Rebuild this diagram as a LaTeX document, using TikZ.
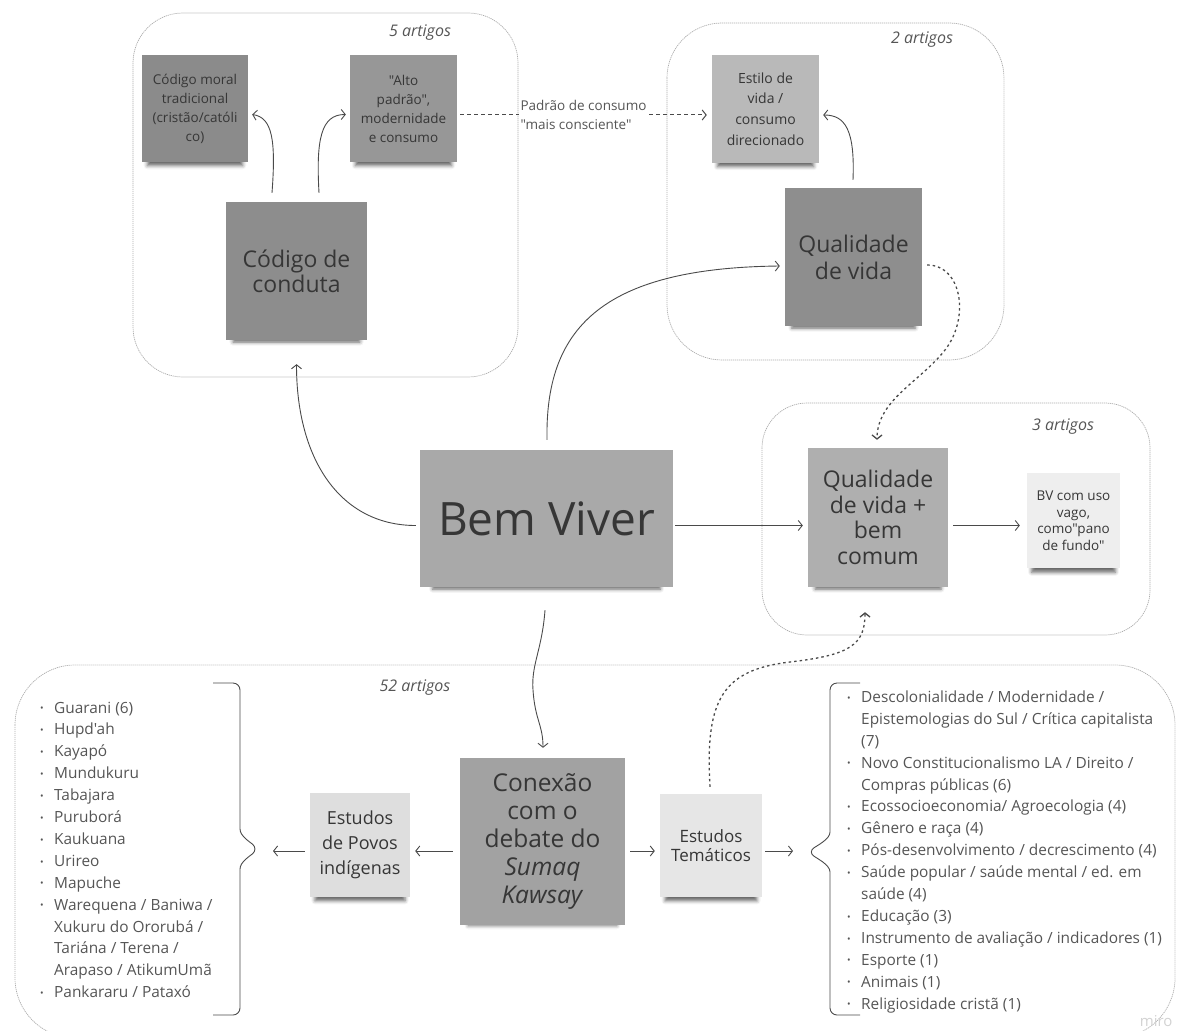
\documentclass[tikz,border=0pt]{standalone}
\usepackage{fontspec}
\setmainfont{Open Sans}[Ligatures=TeXOff]
\usetikzlibrary{arrows.meta,shadows.blur,calc}
\definecolor{cmoral}{HTML}{8B8B8B}
\definecolor{calto}{HTML}{979797}
\definecolor{cconduta}{HTML}{8D8D8D}
\definecolor{cestilo}{HTML}{B9B9B9}
\definecolor{cqv}{HTML}{8E8E8E}
\definecolor{cbv}{HTML}{A9A9A9}
\definecolor{cqbc}{HTML}{AFAFAF}
\definecolor{cbvv}{HTML}{EEEEEE}
\definecolor{cpovos}{HTML}{DEDEDE}
\definecolor{cconex}{HTML}{A2A2A2}
\definecolor{ctem}{HTML}{E6E6E6}
\definecolor{txt}{HTML}{363636}
\definecolor{ltxt}{HTML}{555555}
\definecolor{lnc}{HTML}{4A4A4A}
\newcommand\bul{\makebox[14pt][l]{\raisebox{1.3pt}{\fontsize{9.5}{9.5}\selectfont •}}}
\newcommand\ind{\hspace*{14pt}}
\newcommand\fs[2]{\fontsize{#1}{#2}\selectfont}
\newcommand\qq{"}
\begin{document}
\begin{tikzpicture}[x=1pt,y=-1pt,
  sticky/.style={draw=none, inner sep=2pt, align=center, text=txt,
    blur shadow={shadow xshift=0pt, shadow yshift=-10pt, shadow scale=0.9,
      shadow blur radius=4pt, shadow opacity=60}},
  group/.style={draw=gray!65, line width=0.7pt, dash pattern=on 1.2pt off 0.8pt},
  glabel/.style={text=ltxt, font=\fs{16}{19}\itshape, inner sep=0pt},
  arr/.style={draw=lnc, line width=0.9pt, -{Straight Barb[length=4pt,width=10pt]}},
  dotarr/.style={arr, line width=1.3pt, dash pattern=on 2.5pt off 3pt},
  dasharr/.style={arr, line width=1pt, dash pattern=on 4pt off 3pt},
  bracestyle/.style={draw=lnc, line width=0.9pt, rounded corners=7pt},
  listnode/.style={text=ltxt, align=left, inner sep=0pt, font=\fs{15.4}{21.9}}
]
\useasboundingbox (0,0) rectangle (1177,1030);

% containers
\draw[group, rounded corners=50pt] (133,13) rectangle (518,377);
\draw[group, rounded corners=55pt] (667,23) rectangle (1004,360);
\draw[group, rounded corners=45pt] (762,403) rectangle (1150,635);
\draw[group, rounded corners=60pt] (15,665) rectangle (1175,1038);

\node[glabel] (g1l) at (420,33) {5 artigos};
\node[glabel] (g2l) at (922,40) {2 artigos};
\node[glabel] (g3l) at (1063,427) {3 artigos};
\node[glabel] (g4l) at (415,688) {52 artigos};

% sticky notes
\node[sticky, fill=cmoral, minimum width=106pt, minimum height=107pt, font=\fs{13.5}{19}]
  (moral) at (195,108.5) {Código moral\\tradicional\\(cristão/católi\\co)};
\node[sticky, fill=calto, minimum width=107pt, minimum height=107pt, font=\fs{13.5}{19}]
  (alto) at (403.5,108.5) {\qq Alto\\padrão\qq,\\modernidade\\e consumo};
\node[sticky, fill=cconduta, minimum width=141pt, minimum height=138pt, font=\fs{23}{25}]
  (conduta) at (296.5,271) {Código de\\conduta};
\node[sticky, fill=cestilo, minimum width=107pt, minimum height=108pt, font=\fs{14}{20.5}]
  (estilo) at (765.5,109) {Estilo de\\vida /\\consumo\\direcionado};
\node[sticky, fill=cqv, minimum width=137pt, minimum height=138pt, font=\fs{23}{27}]
  (qv) at (853.5,257) {Qualidade\\de vida};
\node[sticky, fill=cbv, minimum width=253pt, minimum height=137pt, font=\fs{46}{50}]
  (bv) at (546.5,518.5) {Bem Viver};
\node[sticky, fill=cqbc, minimum width=140pt, minimum height=139pt, font=\fs{23}{25.6}]
  (qbc) at (878,517.5) {Qualidade\\de vida +\\bem\\comum};
\node[sticky, fill=cbvv, minimum width=93pt, minimum height=95pt, font=\fs{13.5}{16.5}]
  (bvv) at (1073.5,520.5) {BV com uso\\vago,\\como\qq pano\\de fundo\qq};
\node[sticky, fill=cpovos, minimum width=100pt, minimum height=104pt, font=\fs{18}{25}]
  (povos) at (360,845) {Estudos\\de Povos\\indígenas};
\node[sticky, fill=cconex, minimum width=165pt, minimum height=167pt, font=\fs{24.5}{28}]
  (conex) at (542.5,841.5) {Conexão\\com o\\debate do\\\textit{Sumaq}\\\textit{Kawsay}};
\node[sticky, fill=ctem, minimum width=102pt, minimum height=103pt, font=\fs{17}{19.5}]
  (tem) at (711,845.5) {Estudos\\Temáticos};

% lists
\node[listnode, anchor=north west] (llist) at (40,701.5) {%
\bul Guarani (6)\\
\bul Hupd'ah\\
\bul Kayapó\\
\bul Mundukuru\\
\bul Tabajara\\
\bul Puruborá\\
\bul Kaukuana\\
\bul Urireo\\
\bul Mapuche\\
\bul Warequena / Baniwa /\\
\ind Xukuru do Ororubá /\\
\ind Tariána / Terena /\\
\ind Arapaso / AtikumUmã\\
\bul Pankararu / Pataxó};

\node[listnode, anchor=north west] (rlist) at (847,690.5) {%
\bul Descolonialidade / Modernidade /\\
\ind Epistemologias do Sul / Crítica capitalista\\
\ind (7)\\
\bul Novo Constitucionalismo LA / Direito /\\
\ind Compras públicas (6)\\
\bul Ecossocioeconomia/ Agroecologia (4)\\
\bul Gênero e raça (4)\\
\bul Pós-desenvolvimento / decrescimento (4)\\
\bul Saúde popular / saúde mental / ed. em\\
\ind saúde (4)\\
\bul Educação (3)\\
\bul Instrumento de avaliação / indicadores (1)\\
\bul Esporte (1)\\
\bul Animais (1)\\
\bul Religiosidade cristã (1)};

% braces
\coordinate (lb) at (258,849);
\coordinate (rb) at (808,852);
\draw[bracestyle] (213,683) -- (240,683) -- (240,822)
  .. controls (240,836) and (250,842) .. (lb)
  .. controls (250,856) and (240,862) .. (240,876) -- (240,1015) -- (213,1015);
\draw[bracestyle] (860,683) -- (830,683) -- (830,825)
  .. controls (830,839) and (818,845) .. (rb)
  .. controls (818,859) and (830,865) .. (830,879) -- (830,1015) -- (860,1015);

% connectors
\draw[arr] ($(conduta.north)+(-24.5,-9)$) .. controls +(4,-53) and +(20,3) .. ($(moral.east)+(4,6)$);
\draw[arr] ($(conduta.north)+(22.5,-9)$) .. controls +(-3,-53) and +(-25,0) .. ($(alto.west)+(-4,6)$);
\draw[arr] ($(bv.west)+(-4,7)$) .. controls +(-75,0) and +(0,96) .. ($(conduta.south)+(0,24)$);
\draw[arr] ($(bv.north)+(0.5,-10)$) .. controls +(-2,-110) and +(-180,2) .. ($(qv.west)+(-5,9)$);
\draw[arr] ($(bv.east)+(2,7)$) -- ($(qbc.west)+(-5,8)$);
\draw[arr] ($(qbc.east)+(5,8)$) -- ($(bvv.west)+(-7,5)$);
\draw[arr] ($(qv.north)+(-0.5,-8)$) .. controls +(2,-50) and +(22,0) .. ($(estilo.east)+(4,6)$);
\draw[arr] ($(bv.south)+(-1.5,23)$) .. controls (542,650) and (531,665) .. (533,690)
  .. controls (535,720) and (543,725) .. ($(conex.north)+(0.5,-10)$);
\draw[arr] ($(conex.west)+(-7,9.5)$) -- ($(povos.east)+(5,6)$);
\draw[arr] ($(conex.east)+(5,9.5)$) -- ($(tem.west)+(-5,5.5)$);
\draw[arr] ($(povos.west)+(-5,6)$) -- ($(lb)+(15,2)$);
\draw[arr] ($(tem.east)+(3,5.5)$) -- ($(rb)+(-15,-1)$);
\draw[dotarr] ($(qv.east)+(5,8)$) .. controls (962,265) and (970,318) .. (945,350)
  .. controls (920,382) and (877,400) .. ($(qbc.north)+(-1,-8)$);
\draw[dotarr] ($(tem.north)+(-1,-7)$) .. controls (705,700) and (722,670) .. (790,662)
  .. controls (850,655) and (865,645) .. ($(qbc.south)+(-13,25)$);
\draw[dasharr] ($(alto.east)+(3,6.5)$) -- node[fill=white, text=ltxt, align=left, inner sep=2pt,
   font=\fs{13.5}{19}] (padrao) {Padrão de consumo\\\qq mais consciente\qq} ($(estilo.west)+(-5,6)$);

\node[text=gray!35, font=\fs{15}{15}, anchor=east] (miro) at (1176,1021) {miro};
\end{tikzpicture}
\end{document}
